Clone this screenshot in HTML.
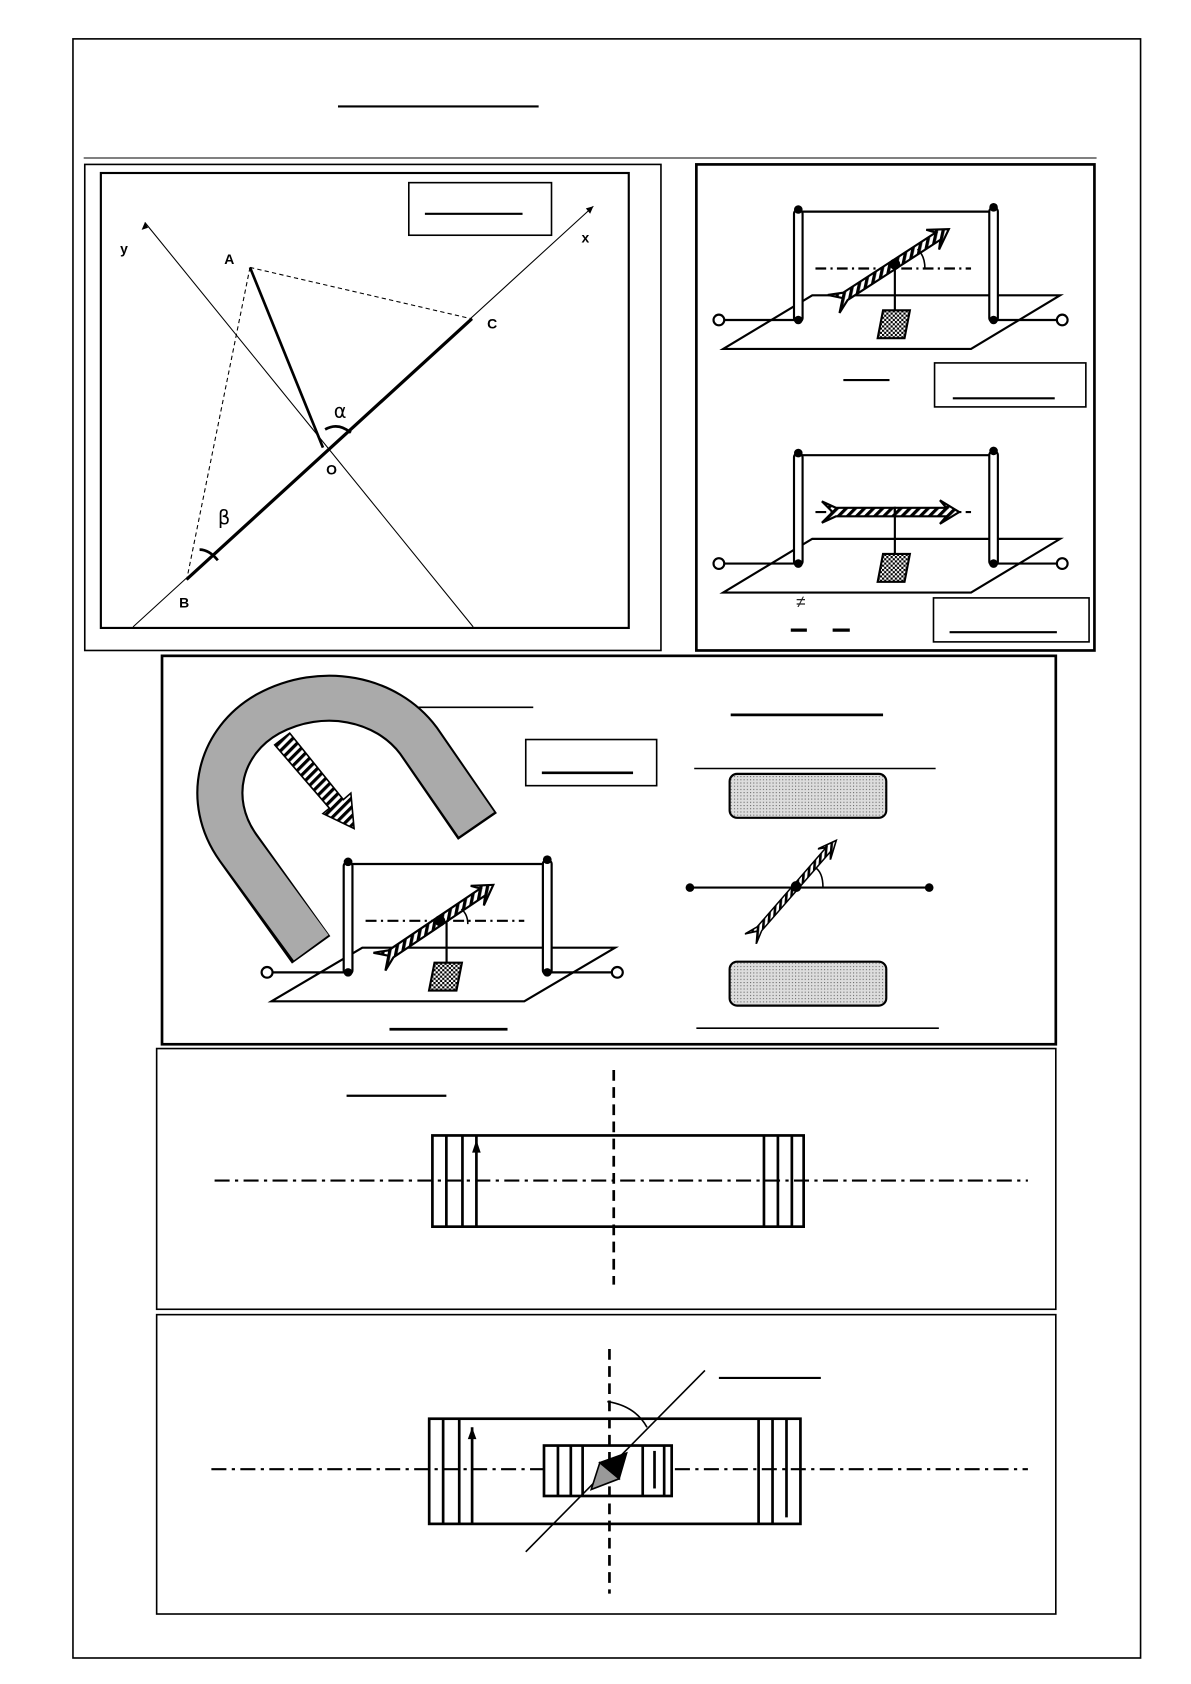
<!DOCTYPE html>
<html><head><meta charset="utf-8"><style>html,body{margin:0;padding:0;background:#fff}svg{display:block}</style></head>
<body>
<svg width="1191" height="1684" viewBox="0 0 1110 1569" xmlns="http://www.w3.org/2000/svg" font-family="Liberation Sans, sans-serif">
<defs>
<pattern id="dots" width="3" height="3" patternUnits="userSpaceOnUse"><rect width="3" height="3" fill="#ddd"/><rect width="1" height="1" fill="#666"/></pattern>
<pattern id="hatch" width="6" height="6" patternUnits="userSpaceOnUse" patternTransform="rotate(45)"><rect width="6" height="6" fill="#fff"/><rect width="3" height="6" fill="#000"/></pattern>
<pattern id="chk" width="4" height="4" patternUnits="userSpaceOnUse"><rect width="4" height="4" fill="#fff"/><rect width="2" height="2" fill="#000"/><rect x="2" y="2" width="2" height="2" fill="#000"/></pattern>
<g id="app">
 <polygon points="0,50 83,0 314,0 231,50" fill="none" stroke="#000" stroke-width="2"/>
 <line x1="0" y1="23" x2="70" y2="23" stroke="#000" stroke-width="2"/>
 <line x1="252" y1="23" x2="312" y2="23" stroke="#000" stroke-width="2"/>
 <circle cx="-4" cy="23" r="5" fill="#fff" stroke="#000" stroke-width="2"/>
 <circle cx="316" cy="23" r="5" fill="#fff" stroke="#000" stroke-width="2"/>
 <line x1="70" y1="-78" x2="252" y2="-78" stroke="#000" stroke-width="2"/>
 <rect x="66" y="-80" width="8" height="105" rx="4" fill="#fff" stroke="#000" stroke-width="2"/>
 <rect x="248" y="-82" width="8" height="107" rx="4" fill="#fff" stroke="#000" stroke-width="2"/>
 <circle cx="70" cy="-80" r="4"/><circle cx="70" cy="23" r="4"/>
 <circle cx="252" cy="-82" r="4"/><circle cx="252" cy="23" r="4"/>
 <line x1="86" y1="-25" x2="231" y2="-25" stroke="#000" stroke-width="2" stroke-dasharray="10,4,2,4"/>
 <line x1="160" y1="-28" x2="160" y2="14" stroke="#000" stroke-width="2"/>
 <polygon points="149,14 174,14 169,40 144,40" fill="url(#chk)" stroke="#000" stroke-width="2"/>
</g>
<g id="arr">
 <polygon points="0,-4 -55,-4 -68,-10 -58,0 -68,10 -55,4 0,4" fill="url(#hatch)" stroke="#000" stroke-width="2"/>
 <polygon points="0,-4 48,-4 42,-11 60,0 42,11 48,4 0,4" fill="url(#hatch)" stroke="#000" stroke-width="2"/>
</g>
</defs>
<g fill="none" stroke="#000">
<rect x="68" y="36" width="995" height="1509" stroke-width="1.5"/>
<line x1="78" y1="147" x2="1022" y2="147" stroke-width="1"/>
<line x1="315" y1="99" x2="502" y2="99" stroke-width="2"/>
<rect x="79" y="153" width="537" height="453" stroke-width="1.5"/>
<rect x="94" y="161" width="492" height="424" stroke-width="2"/>
<rect x="381" y="170" width="133" height="49" stroke-width="1.5"/>
<line x1="396" y1="199" x2="487" y2="199" stroke-width="2"/>
<line x1="135" y1="207" x2="441" y2="584" stroke-width="1"/>
<line x1="124" y1="584" x2="553" y2="192" stroke-width="1"/>
<line x1="174" y1="540" x2="440" y2="297" stroke-width="2.5"/>
<line x1="233" y1="249" x2="301" y2="417" stroke-width="2.5"/>
<line x1="233" y1="249" x2="440" y2="297" stroke-width="1" stroke-dasharray="4,3"/>
<line x1="233" y1="249" x2="174" y2="540" stroke-width="1" stroke-dasharray="4,3"/>
<path d="M303,400 Q315,393 327,403" stroke-width="2.5"/>
<path d="M186,512 Q195,512 203,522" stroke-width="2.5"/>
</g>
<polygon points="135,207 132,214 138,212"/><polygon points="553,192 546,194 550,199"/>
<g font-size="13" font-weight="bold">
<text x="112" y="236">y</text><text x="542" y="226">x</text><text x="209" y="246">A</text><text x="454" y="306">C</text><text x="304" y="442">O</text><text x="167" y="566">B</text>
</g>
<text x="311" y="389" font-size="18" font-family="DejaVu Sans, sans-serif">α</text>
<text x="203" y="488" font-size="18" font-family="DejaVu Sans, sans-serif">β</text>
<rect x="649" y="153" width="371" height="453" fill="none" stroke="#000" stroke-width="2.5"/>
<use href="#app" x="674" y="275"/>
<use href="#arr" transform="translate(834,246) rotate(-33)"/>
<circle cx="834" cy="246" r="5"/>
<path d="M855,232 Q862,238 862,250" fill="none" stroke="#000" stroke-width="1.5"/>
<g stroke="#000" fill="none">
<line x1="786" y1="354" x2="829" y2="354" stroke-width="2"/>
<rect x="871" y="338" width="141" height="41" stroke-width="1.5"/>
<line x1="888" y1="371" x2="983" y2="371" stroke-width="2"/>
</g>
<use href="#app" x="674" y="502"/>
<use href="#arr" transform="translate(834,477)"/>
<text x="742" y="566" font-size="16" fill="#222">≠</text>
<g stroke="#000" fill="none">
<line x1="737" y1="587" x2="752" y2="587" stroke-width="3"/>
<line x1="776" y1="587" x2="792" y2="587" stroke-width="3"/>
<rect x="870" y="557" width="145" height="41" stroke-width="1.5"/>
<line x1="885" y1="589" x2="985" y2="589" stroke-width="2"/>
</g>
<rect x="151" y="611" width="833" height="362" fill="none" stroke="#000" stroke-width="2.5"/>
<path d="M290,885 L222,790 C190,745 205,690 250,665 C300,638 360,650 390,690 L445,770" fill="none" stroke="#000" stroke-width="44"/>
<path d="M290,883 L222,790 C190,745 205,690 250,665 C300,638 360,650 390,690 L444,768" fill="none" stroke="#aaa" stroke-width="40"/>
<polygon points="256,694 270,683 320,745 327,739 330,772 301,758 307,753" fill="url(#hatch)" stroke="#000" stroke-width="1.5"/>
<g stroke="#000" fill="none">
<line x1="390" y1="659" x2="497" y2="659" stroke-width="1.5"/>
<rect x="490" y="689" width="122" height="43" stroke-width="1.5"/>
<line x1="505" y1="720" x2="590" y2="720" stroke-width="2.5"/>
<line x1="363" y1="959" x2="473" y2="959" stroke-width="2.5"/>
</g>
<use href="#app" x="253" y="883" transform="translate(253,883) scale(1.02,1) translate(-253,-883)"/>
<use href="#arr" transform="translate(410,858) rotate(-34)"/>
<circle cx="410" cy="858" r="5"/>
<path d="M430,847 Q436,852 436,861" fill="none" stroke="#000" stroke-width="1.5"/>
<g stroke="#000" fill="none">
<line x1="681" y1="666" x2="823" y2="666" stroke-width="2.5"/>
<line x1="647" y1="716" x2="872" y2="716" stroke-width="1.5"/>
<rect x="680" y="721" width="146" height="41" rx="7" fill="url(#dots)" stroke-width="2"/>
<line x1="643" y1="827" x2="866" y2="827" stroke-width="2"/>
<rect x="680" y="896" width="146" height="41" rx="7" fill="url(#dots)" stroke-width="2"/>
<line x1="649" y1="958" x2="875" y2="958" stroke-width="1.5"/>
<path d="M759,808 Q767,812 767,827" stroke-width="1.5"/>
</g>
<circle cx="643" cy="827" r="4"/><circle cx="866" cy="827" r="4"/>
<use href="#arr" transform="translate(742,826) rotate(-49) scale(0.95,0.7)"/>
<circle cx="742" cy="826" r="5"/>
<g stroke="#000" fill="none">
<rect x="146" y="977" width="838" height="243" stroke-width="1.5"/>
<line x1="323" y1="1021" x2="416" y2="1021" stroke-width="2"/>
<rect x="403" y="1058" width="346" height="85" stroke-width="2.5"/>
<line x1="416" y1="1058" x2="416" y2="1143" stroke-width="2.5"/>
<line x1="431" y1="1058" x2="431" y2="1143" stroke-width="2.5"/>
<line x1="444" y1="1058" x2="444" y2="1143" stroke-width="2.5"/>
<line x1="712" y1="1058" x2="712" y2="1143" stroke-width="2.5"/>
<line x1="725" y1="1058" x2="725" y2="1143" stroke-width="2.5"/>
<line x1="738" y1="1058" x2="738" y2="1143" stroke-width="2.5"/>
<line x1="200" y1="1100" x2="958" y2="1100" stroke-width="2" stroke-dasharray="14,5,3,5"/>
<line x1="572" y1="997" x2="572" y2="1197" stroke-width="2.5" stroke-dasharray="10,6"/>
</g>
<polygon points="444,1062 440,1074 448,1074"/>
<g stroke="#000" fill="none">
<rect x="146" y="1225" width="838" height="279" stroke-width="1.5"/>
<line x1="670" y1="1284" x2="765" y2="1284" stroke-width="2"/>
<rect x="400" y="1322" width="346" height="98" stroke-width="2.5"/>
<line x1="413" y1="1322" x2="413" y2="1420" stroke-width="2.5"/>
<line x1="428" y1="1322" x2="428" y2="1420" stroke-width="2.5"/>
<line x1="440" y1="1330" x2="440" y2="1420" stroke-width="2.5"/>
<line x1="707" y1="1322" x2="707" y2="1420" stroke-width="2.5"/>
<line x1="720" y1="1322" x2="720" y2="1420" stroke-width="2.5"/>
<line x1="733" y1="1322" x2="733" y2="1414" stroke-width="2.5"/>
<line x1="197" y1="1369" x2="958" y2="1369" stroke-width="2" stroke-dasharray="14,5,3,5"/>
<rect x="507" y="1347" width="119" height="47" fill="#fff" stroke-width="2.5"/>
<line x1="520" y1="1347" x2="520" y2="1394" stroke-width="2.5"/>
<line x1="532" y1="1347" x2="532" y2="1394" stroke-width="2.5"/>
<line x1="543" y1="1347" x2="543" y2="1394" stroke-width="2.5"/>
<line x1="599" y1="1347" x2="599" y2="1394" stroke-width="2.5"/>
<line x1="610" y1="1352" x2="610" y2="1387" stroke-width="2.5"/>
<line x1="619" y1="1347" x2="619" y2="1394" stroke-width="2.5"/>
<line x1="568" y1="1257" x2="568" y2="1485" stroke-width="2.5" stroke-dasharray="10,6"/>
<line x1="490" y1="1446" x2="657" y2="1277" stroke-width="1.5"/>
<path d="M566,1306 Q592,1310 603,1330" stroke-width="1.5"/>
</g>
<polygon points="440,1330 436,1341 444,1341"/>
<polygon points="584,1354 559,1363 577,1378" stroke="#000" stroke-width="1.5"/>
<polygon points="559,1363 551,1388 577,1378" fill="#999" stroke="#000" stroke-width="1.5"/>
</svg>
</body></html>
